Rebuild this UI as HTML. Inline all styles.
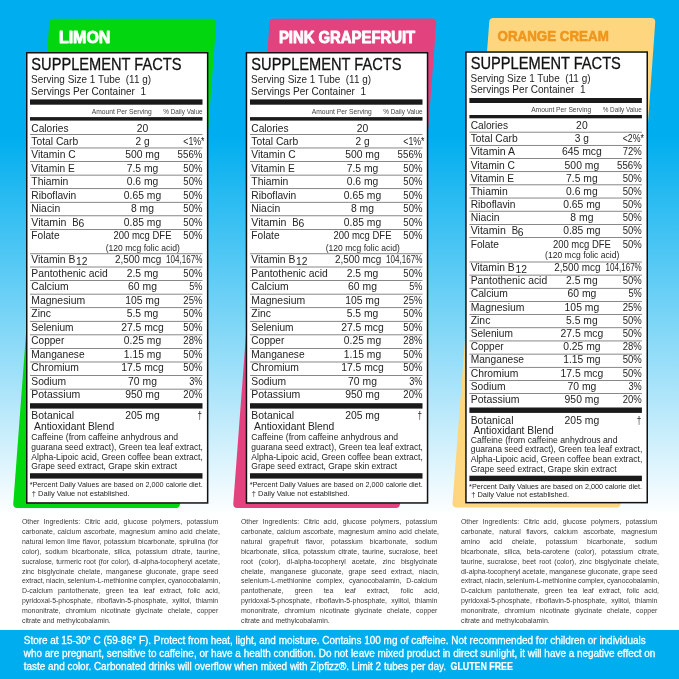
<!DOCTYPE html>
<html lang="en"><head><meta charset="utf-8"><title>Supplement Facts</title>
<style>
html,body{margin:0;padding:0;background:#fff;}
body{width:679px;height:679px;overflow:hidden;}
svg{display:block;font-family:"Liberation Sans",sans-serif;will-change:transform;}
text{white-space:pre;}
</style></head><body>
<svg width="679" height="679" viewBox="0 0 679 679">
<defs><linearGradient id="bg" x1="0" y1="0" x2="0" y2="1"><stop offset="0" stop-color="#00aeef"/><stop offset="0.2018" stop-color="#00aeef"/><stop offset="0.7585" stop-color="#ffffff"/><stop offset="1" stop-color="#ffffff"/></linearGradient></defs>
<rect x="0" y="0" width="679" height="679" fill="url(#bg)"/>
<rect x="0.00" y="630.00" width="679.00" height="49.00" fill="#00aeef"/>
<path d="M53.30 22.75 L212.25 22.75 L176.00 504.00 L17.25 504.00 Z" fill="#02d60f" stroke="#02d60f" stroke-width="8.0" stroke-linejoin="round"/>
<path d="M273.50 22.75 L432.25 22.60 L396.00 504.00 L237.25 504.00 Z" fill="#e2437e" stroke="#e2437e" stroke-width="8.0" stroke-linejoin="round"/>
<path d="M493.30 21.90 L651.25 22.00 L616.60 503.40 L456.50 503.40 Z" fill="#fdd67f" stroke="#fdd67f" stroke-width="8.0" stroke-linejoin="round"/>
<text x="58.90" y="42.60" font-size="17.00" font-weight="bold" fill="#fff" stroke="#fff" stroke-width="0.95" stroke-linejoin="round" textLength="51.50" lengthAdjust="spacingAndGlyphs">LIMON</text>
<text x="278.90" y="42.60" font-size="17.00" font-weight="bold" fill="#fff" stroke="#fff" stroke-width="0.95" stroke-linejoin="round" textLength="136.30" lengthAdjust="spacingAndGlyphs">PINK GRAPEFRUIT</text>
<text x="497.50" y="41.10" font-size="15.00" font-weight="bold" fill="#ee961e" stroke="#ee961e" stroke-width="0.60" stroke-linejoin="round" textLength="111.30" lengthAdjust="spacingAndGlyphs">ORANGE CREAM</text>
<rect x="26.75" y="52.75" width="180.90" height="450.20" fill="#fff" stroke="#111" stroke-width="1.5"/>
<text x="31.30" y="69.50" font-size="16.20" fill="#111" textLength="150.20" lengthAdjust="spacingAndGlyphs" stroke="#111" stroke-width="0.3">SUPPLEMENT FACTS</text>
<text x="31.10" y="82.60" font-size="10.55" fill="#242424" textLength="120.00" lengthAdjust="spacingAndGlyphs">Serving Size 1 Tube  (11 g)</text>
<text x="31.10" y="94.60" font-size="10.55" fill="#242424" textLength="115.00" lengthAdjust="spacingAndGlyphs">Servings Per Container  1</text>
<rect x="30.00" y="99.40" width="172.50" height="5.30" fill="#1a1a1a"/>
<text x="91.75" y="113.90" font-size="7.00" fill="#444" textLength="60.00" lengthAdjust="spacingAndGlyphs">Amount Per Serving</text>
<text x="163.25" y="113.90" font-size="7.00" fill="#444" textLength="39.25" lengthAdjust="spacingAndGlyphs">% Daily Value</text>
<rect x="30.00" y="117.10" width="172.50" height="3.50" fill="#1a1a1a"/>
<text x="31.30" y="131.60" font-size="10.30" fill="#242424" textLength="37.29" lengthAdjust="spacingAndGlyphs">Calories</text>
<text x="142.50" y="131.60" font-size="10.30" text-anchor="middle" fill="#242424" textLength="11.53" lengthAdjust="spacingAndGlyphs">20</text>
<rect x="30.00" y="134.05" width="172.50" height="0.70" fill="#555"/>
<text x="31.30" y="145.03" font-size="10.30" fill="#242424" textLength="46.93" lengthAdjust="spacingAndGlyphs">Total Carb</text>
<text x="142.50" y="145.03" font-size="10.30" text-anchor="middle" fill="#242424" textLength="14.07" lengthAdjust="spacingAndGlyphs">2 g</text>
<text x="204.50" y="145.03" font-size="10.30" text-anchor="end" fill="#242424" textLength="21.20" lengthAdjust="spacingAndGlyphs">&lt;1%*</text>
<rect x="30.00" y="147.62" width="172.50" height="0.70" fill="#555"/>
<text x="31.30" y="158.46" font-size="10.30" fill="#242424" textLength="44.32" lengthAdjust="spacingAndGlyphs">Vitamin C</text>
<text x="142.50" y="158.46" font-size="10.30" text-anchor="middle" fill="#242424" textLength="34.58" lengthAdjust="spacingAndGlyphs">500 mg</text>
<text x="202.40" y="158.46" font-size="10.30" text-anchor="end" fill="#242424" textLength="24.80" lengthAdjust="spacingAndGlyphs">556%</text>
<rect x="30.00" y="161.19" width="172.50" height="0.70" fill="#555"/>
<text x="31.30" y="171.89" font-size="10.30" fill="#242424" textLength="43.48" lengthAdjust="spacingAndGlyphs">Vitamin E</text>
<text x="142.50" y="171.89" font-size="10.30" text-anchor="middle" fill="#242424" textLength="31.52" lengthAdjust="spacingAndGlyphs">7.5 mg</text>
<text x="202.40" y="171.89" font-size="10.30" text-anchor="end" fill="#242424" textLength="19.04" lengthAdjust="spacingAndGlyphs">50%</text>
<rect x="30.00" y="174.76" width="172.50" height="0.70" fill="#555"/>
<text x="31.30" y="185.32" font-size="10.30" fill="#242424" textLength="36.99" lengthAdjust="spacingAndGlyphs">Thiamin</text>
<text x="142.50" y="185.32" font-size="10.30" text-anchor="middle" fill="#242424" textLength="31.52" lengthAdjust="spacingAndGlyphs">0.6 mg</text>
<text x="202.40" y="185.32" font-size="10.30" text-anchor="end" fill="#242424" textLength="19.04" lengthAdjust="spacingAndGlyphs">50%</text>
<rect x="30.00" y="188.33" width="172.50" height="0.70" fill="#555"/>
<text x="31.30" y="198.75" font-size="10.30" fill="#242424" textLength="44.87" lengthAdjust="spacingAndGlyphs">Riboflavin</text>
<text x="142.50" y="198.75" font-size="10.30" text-anchor="middle" fill="#242424" textLength="37.29" lengthAdjust="spacingAndGlyphs">0.65 mg</text>
<text x="202.40" y="198.75" font-size="10.30" text-anchor="end" fill="#242424" textLength="19.04" lengthAdjust="spacingAndGlyphs">50%</text>
<rect x="30.00" y="201.90" width="172.50" height="0.70" fill="#555"/>
<text x="31.30" y="212.18" font-size="10.30" fill="#242424" textLength="28.91" lengthAdjust="spacingAndGlyphs">Niacin</text>
<text x="142.50" y="212.18" font-size="10.30" text-anchor="middle" fill="#242424" textLength="23.06" lengthAdjust="spacingAndGlyphs">8 mg</text>
<text x="202.40" y="212.18" font-size="10.30" text-anchor="end" fill="#242424" textLength="19.04" lengthAdjust="spacingAndGlyphs">50%</text>
<rect x="30.00" y="215.47" width="172.50" height="0.70" fill="#555"/>
<text x="31.30" y="225.61" font-size="10.30" fill="#242424" textLength="35.11" lengthAdjust="spacingAndGlyphs">Vitamin</text>
<text x="72.30" y="225.61" font-size="10.30" fill="#242424" textLength="6.39" lengthAdjust="spacingAndGlyphs">B</text>
<text x="78.40" y="227.11" font-size="10.30" fill="#242424" textLength="5.76" lengthAdjust="spacingAndGlyphs">6</text>
<text x="142.50" y="225.61" font-size="10.30" text-anchor="middle" fill="#242424" textLength="37.29" lengthAdjust="spacingAndGlyphs">0.85 mg</text>
<text x="202.40" y="225.61" font-size="10.30" text-anchor="end" fill="#242424" textLength="19.04" lengthAdjust="spacingAndGlyphs">50%</text>
<rect x="30.00" y="229.04" width="172.50" height="0.70" fill="#555"/>
<text x="31.30" y="239.04" font-size="10.30" fill="#242424" textLength="28.28" lengthAdjust="spacingAndGlyphs">Folate</text>
<text x="142.50" y="239.04" font-size="10.30" text-anchor="middle" fill="#242424" textLength="58.00" lengthAdjust="spacingAndGlyphs">200 mcg DFE</text>
<text x="202.40" y="239.04" font-size="10.30" text-anchor="end" fill="#242424" textLength="19.04" lengthAdjust="spacingAndGlyphs">50%</text>
<text x="142.80" y="250.74" font-size="8.60" text-anchor="middle" fill="#242424" textLength="74.20" lengthAdjust="spacingAndGlyphs">(120 mcg folic acid)</text>
<rect x="30.00" y="253.45" width="172.50" height="0.70" fill="#555"/>
<text x="31.30" y="263.40" font-size="10.30" fill="#242424" textLength="44.04" lengthAdjust="spacingAndGlyphs">Vitamin B</text>
<text x="76.00" y="264.90" font-size="10.30" fill="#242424" textLength="11.53" lengthAdjust="spacingAndGlyphs">12</text>
<text x="138.05" y="263.40" font-size="10.30" text-anchor="middle" fill="#242424" textLength="46.30" lengthAdjust="spacingAndGlyphs">2,500 mcg</text>
<text x="202.40" y="263.40" font-size="10.30" text-anchor="end" fill="#242424" textLength="36.30" lengthAdjust="spacingAndGlyphs">104,167%</text>
<rect x="30.00" y="266.65" width="172.50" height="0.70" fill="#555"/>
<text x="31.30" y="276.89" font-size="10.30" fill="#242424" textLength="76.49" lengthAdjust="spacingAndGlyphs">Pantothenic acid</text>
<text x="142.50" y="276.89" font-size="10.30" text-anchor="middle" fill="#242424" textLength="31.52" lengthAdjust="spacingAndGlyphs">2.5 mg</text>
<text x="202.40" y="276.89" font-size="10.30" text-anchor="end" fill="#242424" textLength="19.04" lengthAdjust="spacingAndGlyphs">50%</text>
<rect x="30.00" y="280.22" width="172.50" height="0.70" fill="#555"/>
<text x="31.30" y="290.38" font-size="10.30" fill="#242424" textLength="37.25" lengthAdjust="spacingAndGlyphs">Calcium</text>
<text x="142.50" y="290.38" font-size="10.30" text-anchor="middle" fill="#242424" textLength="28.82" lengthAdjust="spacingAndGlyphs">60 mg</text>
<text x="202.40" y="290.38" font-size="10.30" text-anchor="end" fill="#242424" textLength="13.27" lengthAdjust="spacingAndGlyphs">5%</text>
<rect x="30.00" y="293.79" width="172.50" height="0.70" fill="#555"/>
<text x="31.30" y="303.87" font-size="10.30" fill="#242424" textLength="53.82" lengthAdjust="spacingAndGlyphs">Magnesium</text>
<text x="142.50" y="303.87" font-size="10.30" text-anchor="middle" fill="#242424" textLength="34.58" lengthAdjust="spacingAndGlyphs">105 mg</text>
<text x="202.40" y="303.87" font-size="10.30" text-anchor="end" fill="#242424" textLength="19.04" lengthAdjust="spacingAndGlyphs">25%</text>
<rect x="30.00" y="307.36" width="172.50" height="0.70" fill="#555"/>
<text x="31.30" y="317.36" font-size="10.30" fill="#242424" textLength="19.67" lengthAdjust="spacingAndGlyphs">Zinc</text>
<text x="142.50" y="317.36" font-size="10.30" text-anchor="middle" fill="#242424" textLength="31.52" lengthAdjust="spacingAndGlyphs">5.5 mg</text>
<text x="202.40" y="317.36" font-size="10.30" text-anchor="end" fill="#242424" textLength="19.04" lengthAdjust="spacingAndGlyphs">50%</text>
<rect x="30.00" y="320.93" width="172.50" height="0.70" fill="#555"/>
<text x="31.30" y="330.85" font-size="10.30" fill="#242424" textLength="42.26" lengthAdjust="spacingAndGlyphs">Selenium</text>
<text x="142.50" y="330.85" font-size="10.30" text-anchor="middle" fill="#242424" textLength="42.66" lengthAdjust="spacingAndGlyphs">27.5 mcg</text>
<text x="202.40" y="330.85" font-size="10.30" text-anchor="end" fill="#242424" textLength="19.04" lengthAdjust="spacingAndGlyphs">50%</text>
<rect x="30.00" y="334.50" width="172.50" height="0.70" fill="#555"/>
<text x="31.30" y="344.34" font-size="10.30" fill="#242424" textLength="32.95" lengthAdjust="spacingAndGlyphs">Copper</text>
<text x="142.50" y="344.34" font-size="10.30" text-anchor="middle" fill="#242424" textLength="37.29" lengthAdjust="spacingAndGlyphs">0.25 mg</text>
<text x="202.40" y="344.34" font-size="10.30" text-anchor="end" fill="#242424" textLength="19.04" lengthAdjust="spacingAndGlyphs">28%</text>
<rect x="30.00" y="348.07" width="172.50" height="0.70" fill="#555"/>
<text x="31.30" y="357.83" font-size="10.30" fill="#242424" textLength="53.36" lengthAdjust="spacingAndGlyphs">Manganese</text>
<text x="142.50" y="357.83" font-size="10.30" text-anchor="middle" fill="#242424" textLength="37.29" lengthAdjust="spacingAndGlyphs">1.15 mg</text>
<text x="202.40" y="357.83" font-size="10.30" text-anchor="end" fill="#242424" textLength="19.04" lengthAdjust="spacingAndGlyphs">50%</text>
<rect x="30.00" y="361.64" width="172.50" height="0.70" fill="#555"/>
<text x="31.30" y="371.32" font-size="10.30" fill="#242424" textLength="47.68" lengthAdjust="spacingAndGlyphs">Chromium</text>
<text x="142.50" y="371.32" font-size="10.30" text-anchor="middle" fill="#242424" textLength="42.66" lengthAdjust="spacingAndGlyphs">17.5 mcg</text>
<text x="202.40" y="371.32" font-size="10.30" text-anchor="end" fill="#242424" textLength="19.04" lengthAdjust="spacingAndGlyphs">50%</text>
<rect x="30.00" y="375.21" width="172.50" height="0.70" fill="#555"/>
<text x="31.30" y="384.81" font-size="10.30" fill="#242424" textLength="34.86" lengthAdjust="spacingAndGlyphs">Sodium</text>
<text x="142.50" y="384.81" font-size="10.30" text-anchor="middle" fill="#242424" textLength="28.82" lengthAdjust="spacingAndGlyphs">70 mg</text>
<text x="202.40" y="384.81" font-size="10.30" text-anchor="end" fill="#242424" textLength="13.27" lengthAdjust="spacingAndGlyphs">3%</text>
<rect x="30.00" y="388.78" width="172.50" height="0.70" fill="#555"/>
<text x="31.30" y="398.30" font-size="10.30" fill="#242424" textLength="48.91" lengthAdjust="spacingAndGlyphs">Potassium</text>
<text x="142.50" y="398.30" font-size="10.30" text-anchor="middle" fill="#242424" textLength="34.58" lengthAdjust="spacingAndGlyphs">950 mg</text>
<text x="202.40" y="398.30" font-size="10.30" text-anchor="end" fill="#242424" textLength="19.04" lengthAdjust="spacingAndGlyphs">20%</text>
<rect x="30.00" y="403.20" width="172.50" height="5.40" fill="#1a1a1a"/>
<text x="31.30" y="419.10" font-size="10.30" fill="#242424" textLength="42.77" lengthAdjust="spacingAndGlyphs">Botanical</text>
<text x="142.50" y="419.10" font-size="10.30" text-anchor="middle" fill="#242424" textLength="34.58" lengthAdjust="spacingAndGlyphs">205 mg</text>
<text x="199.70" y="419.10" font-size="10.30" text-anchor="middle" fill="#242424" textLength="4.60" lengthAdjust="spacingAndGlyphs">†</text>
<text x="34.10" y="429.50" font-size="10.30" fill="#242424" textLength="80.21" lengthAdjust="spacingAndGlyphs">Antioxidant Blend</text>
<text x="31.30" y="439.60" font-size="8.60" fill="#242424" textLength="146.80" lengthAdjust="spacingAndGlyphs">Caffeine (from caffeine anhydrous and</text>
<text x="31.30" y="449.65" font-size="8.60" fill="#242424" textLength="171.60" lengthAdjust="spacingAndGlyphs">guarana seed extract), Green tea leaf extract,</text>
<text x="31.30" y="459.70" font-size="8.60" fill="#242424" textLength="171.60" lengthAdjust="spacingAndGlyphs">Alpha-Lipoic acid, Green coffee bean extract,</text>
<text x="31.30" y="469.40" font-size="8.60" fill="#242424" textLength="145.80" lengthAdjust="spacingAndGlyphs">Grape seed extract, Grape skin extract</text>
<rect x="30.00" y="473.20" width="172.50" height="5.40" fill="#1a1a1a"/>
<text x="29.70" y="487.00" font-size="7.30" fill="#242424" textLength="173.00" lengthAdjust="spacingAndGlyphs">*Percent Daily Values are based on 2,000 calorie diet.</text>
<text x="31.80" y="495.50" font-size="7.30" fill="#242424" textLength="97.80" lengthAdjust="spacingAndGlyphs">† Daily Value not established.</text>
<rect x="246.45" y="52.75" width="181.10" height="450.20" fill="#fff" stroke="#111" stroke-width="1.5"/>
<text x="251.30" y="69.50" font-size="16.20" fill="#111" textLength="150.20" lengthAdjust="spacingAndGlyphs" stroke="#111" stroke-width="0.3">SUPPLEMENT FACTS</text>
<text x="251.10" y="82.60" font-size="10.55" fill="#242424" textLength="120.00" lengthAdjust="spacingAndGlyphs">Serving Size 1 Tube  (11 g)</text>
<text x="251.10" y="94.60" font-size="10.55" fill="#242424" textLength="115.00" lengthAdjust="spacingAndGlyphs">Servings Per Container  1</text>
<rect x="250.00" y="99.40" width="172.50" height="5.30" fill="#1a1a1a"/>
<text x="311.75" y="113.90" font-size="7.00" fill="#444" textLength="60.00" lengthAdjust="spacingAndGlyphs">Amount Per Serving</text>
<text x="383.25" y="113.90" font-size="7.00" fill="#444" textLength="39.25" lengthAdjust="spacingAndGlyphs">% Daily Value</text>
<rect x="250.00" y="117.10" width="172.50" height="3.50" fill="#1a1a1a"/>
<text x="251.30" y="131.60" font-size="10.30" fill="#242424" textLength="37.29" lengthAdjust="spacingAndGlyphs">Calories</text>
<text x="362.50" y="131.60" font-size="10.30" text-anchor="middle" fill="#242424" textLength="11.53" lengthAdjust="spacingAndGlyphs">20</text>
<rect x="250.00" y="134.05" width="172.50" height="0.70" fill="#555"/>
<text x="251.30" y="145.03" font-size="10.30" fill="#242424" textLength="46.93" lengthAdjust="spacingAndGlyphs">Total Carb</text>
<text x="362.50" y="145.03" font-size="10.30" text-anchor="middle" fill="#242424" textLength="14.07" lengthAdjust="spacingAndGlyphs">2 g</text>
<text x="424.50" y="145.03" font-size="10.30" text-anchor="end" fill="#242424" textLength="21.20" lengthAdjust="spacingAndGlyphs">&lt;1%*</text>
<rect x="250.00" y="147.62" width="172.50" height="0.70" fill="#555"/>
<text x="251.30" y="158.46" font-size="10.30" fill="#242424" textLength="44.32" lengthAdjust="spacingAndGlyphs">Vitamin C</text>
<text x="362.50" y="158.46" font-size="10.30" text-anchor="middle" fill="#242424" textLength="34.58" lengthAdjust="spacingAndGlyphs">500 mg</text>
<text x="422.40" y="158.46" font-size="10.30" text-anchor="end" fill="#242424" textLength="24.80" lengthAdjust="spacingAndGlyphs">556%</text>
<rect x="250.00" y="161.19" width="172.50" height="0.70" fill="#555"/>
<text x="251.30" y="171.89" font-size="10.30" fill="#242424" textLength="43.48" lengthAdjust="spacingAndGlyphs">Vitamin E</text>
<text x="362.50" y="171.89" font-size="10.30" text-anchor="middle" fill="#242424" textLength="31.52" lengthAdjust="spacingAndGlyphs">7.5 mg</text>
<text x="422.40" y="171.89" font-size="10.30" text-anchor="end" fill="#242424" textLength="19.04" lengthAdjust="spacingAndGlyphs">50%</text>
<rect x="250.00" y="174.76" width="172.50" height="0.70" fill="#555"/>
<text x="251.30" y="185.32" font-size="10.30" fill="#242424" textLength="36.99" lengthAdjust="spacingAndGlyphs">Thiamin</text>
<text x="362.50" y="185.32" font-size="10.30" text-anchor="middle" fill="#242424" textLength="31.52" lengthAdjust="spacingAndGlyphs">0.6 mg</text>
<text x="422.40" y="185.32" font-size="10.30" text-anchor="end" fill="#242424" textLength="19.04" lengthAdjust="spacingAndGlyphs">50%</text>
<rect x="250.00" y="188.33" width="172.50" height="0.70" fill="#555"/>
<text x="251.30" y="198.75" font-size="10.30" fill="#242424" textLength="44.87" lengthAdjust="spacingAndGlyphs">Riboflavin</text>
<text x="362.50" y="198.75" font-size="10.30" text-anchor="middle" fill="#242424" textLength="37.29" lengthAdjust="spacingAndGlyphs">0.65 mg</text>
<text x="422.40" y="198.75" font-size="10.30" text-anchor="end" fill="#242424" textLength="19.04" lengthAdjust="spacingAndGlyphs">50%</text>
<rect x="250.00" y="201.90" width="172.50" height="0.70" fill="#555"/>
<text x="251.30" y="212.18" font-size="10.30" fill="#242424" textLength="28.91" lengthAdjust="spacingAndGlyphs">Niacin</text>
<text x="362.50" y="212.18" font-size="10.30" text-anchor="middle" fill="#242424" textLength="23.06" lengthAdjust="spacingAndGlyphs">8 mg</text>
<text x="422.40" y="212.18" font-size="10.30" text-anchor="end" fill="#242424" textLength="19.04" lengthAdjust="spacingAndGlyphs">50%</text>
<rect x="250.00" y="215.47" width="172.50" height="0.70" fill="#555"/>
<text x="251.30" y="225.61" font-size="10.30" fill="#242424" textLength="35.11" lengthAdjust="spacingAndGlyphs">Vitamin</text>
<text x="292.30" y="225.61" font-size="10.30" fill="#242424" textLength="6.39" lengthAdjust="spacingAndGlyphs">B</text>
<text x="298.40" y="227.11" font-size="10.30" fill="#242424" textLength="5.76" lengthAdjust="spacingAndGlyphs">6</text>
<text x="362.50" y="225.61" font-size="10.30" text-anchor="middle" fill="#242424" textLength="37.29" lengthAdjust="spacingAndGlyphs">0.85 mg</text>
<text x="422.40" y="225.61" font-size="10.30" text-anchor="end" fill="#242424" textLength="19.04" lengthAdjust="spacingAndGlyphs">50%</text>
<rect x="250.00" y="229.04" width="172.50" height="0.70" fill="#555"/>
<text x="251.30" y="239.04" font-size="10.30" fill="#242424" textLength="28.28" lengthAdjust="spacingAndGlyphs">Folate</text>
<text x="362.50" y="239.04" font-size="10.30" text-anchor="middle" fill="#242424" textLength="58.00" lengthAdjust="spacingAndGlyphs">200 mcg DFE</text>
<text x="422.40" y="239.04" font-size="10.30" text-anchor="end" fill="#242424" textLength="19.04" lengthAdjust="spacingAndGlyphs">50%</text>
<text x="362.80" y="250.74" font-size="8.60" text-anchor="middle" fill="#242424" textLength="74.20" lengthAdjust="spacingAndGlyphs">(120 mcg folic acid)</text>
<rect x="250.00" y="253.45" width="172.50" height="0.70" fill="#555"/>
<text x="251.30" y="263.40" font-size="10.30" fill="#242424" textLength="44.04" lengthAdjust="spacingAndGlyphs">Vitamin B</text>
<text x="296.00" y="264.90" font-size="10.30" fill="#242424" textLength="11.53" lengthAdjust="spacingAndGlyphs">12</text>
<text x="358.05" y="263.40" font-size="10.30" text-anchor="middle" fill="#242424" textLength="46.30" lengthAdjust="spacingAndGlyphs">2,500 mcg</text>
<text x="422.40" y="263.40" font-size="10.30" text-anchor="end" fill="#242424" textLength="36.30" lengthAdjust="spacingAndGlyphs">104,167%</text>
<rect x="250.00" y="266.65" width="172.50" height="0.70" fill="#555"/>
<text x="251.30" y="276.89" font-size="10.30" fill="#242424" textLength="76.49" lengthAdjust="spacingAndGlyphs">Pantothenic acid</text>
<text x="362.50" y="276.89" font-size="10.30" text-anchor="middle" fill="#242424" textLength="31.52" lengthAdjust="spacingAndGlyphs">2.5 mg</text>
<text x="422.40" y="276.89" font-size="10.30" text-anchor="end" fill="#242424" textLength="19.04" lengthAdjust="spacingAndGlyphs">50%</text>
<rect x="250.00" y="280.22" width="172.50" height="0.70" fill="#555"/>
<text x="251.30" y="290.38" font-size="10.30" fill="#242424" textLength="37.25" lengthAdjust="spacingAndGlyphs">Calcium</text>
<text x="362.50" y="290.38" font-size="10.30" text-anchor="middle" fill="#242424" textLength="28.82" lengthAdjust="spacingAndGlyphs">60 mg</text>
<text x="422.40" y="290.38" font-size="10.30" text-anchor="end" fill="#242424" textLength="13.27" lengthAdjust="spacingAndGlyphs">5%</text>
<rect x="250.00" y="293.79" width="172.50" height="0.70" fill="#555"/>
<text x="251.30" y="303.87" font-size="10.30" fill="#242424" textLength="53.82" lengthAdjust="spacingAndGlyphs">Magnesium</text>
<text x="362.50" y="303.87" font-size="10.30" text-anchor="middle" fill="#242424" textLength="34.58" lengthAdjust="spacingAndGlyphs">105 mg</text>
<text x="422.40" y="303.87" font-size="10.30" text-anchor="end" fill="#242424" textLength="19.04" lengthAdjust="spacingAndGlyphs">25%</text>
<rect x="250.00" y="307.36" width="172.50" height="0.70" fill="#555"/>
<text x="251.30" y="317.36" font-size="10.30" fill="#242424" textLength="19.67" lengthAdjust="spacingAndGlyphs">Zinc</text>
<text x="362.50" y="317.36" font-size="10.30" text-anchor="middle" fill="#242424" textLength="31.52" lengthAdjust="spacingAndGlyphs">5.5 mg</text>
<text x="422.40" y="317.36" font-size="10.30" text-anchor="end" fill="#242424" textLength="19.04" lengthAdjust="spacingAndGlyphs">50%</text>
<rect x="250.00" y="320.93" width="172.50" height="0.70" fill="#555"/>
<text x="251.30" y="330.85" font-size="10.30" fill="#242424" textLength="42.26" lengthAdjust="spacingAndGlyphs">Selenium</text>
<text x="362.50" y="330.85" font-size="10.30" text-anchor="middle" fill="#242424" textLength="42.66" lengthAdjust="spacingAndGlyphs">27.5 mcg</text>
<text x="422.40" y="330.85" font-size="10.30" text-anchor="end" fill="#242424" textLength="19.04" lengthAdjust="spacingAndGlyphs">50%</text>
<rect x="250.00" y="334.50" width="172.50" height="0.70" fill="#555"/>
<text x="251.30" y="344.34" font-size="10.30" fill="#242424" textLength="32.95" lengthAdjust="spacingAndGlyphs">Copper</text>
<text x="362.50" y="344.34" font-size="10.30" text-anchor="middle" fill="#242424" textLength="37.29" lengthAdjust="spacingAndGlyphs">0.25 mg</text>
<text x="422.40" y="344.34" font-size="10.30" text-anchor="end" fill="#242424" textLength="19.04" lengthAdjust="spacingAndGlyphs">28%</text>
<rect x="250.00" y="348.07" width="172.50" height="0.70" fill="#555"/>
<text x="251.30" y="357.83" font-size="10.30" fill="#242424" textLength="53.36" lengthAdjust="spacingAndGlyphs">Manganese</text>
<text x="362.50" y="357.83" font-size="10.30" text-anchor="middle" fill="#242424" textLength="37.29" lengthAdjust="spacingAndGlyphs">1.15 mg</text>
<text x="422.40" y="357.83" font-size="10.30" text-anchor="end" fill="#242424" textLength="19.04" lengthAdjust="spacingAndGlyphs">50%</text>
<rect x="250.00" y="361.64" width="172.50" height="0.70" fill="#555"/>
<text x="251.30" y="371.32" font-size="10.30" fill="#242424" textLength="47.68" lengthAdjust="spacingAndGlyphs">Chromium</text>
<text x="362.50" y="371.32" font-size="10.30" text-anchor="middle" fill="#242424" textLength="42.66" lengthAdjust="spacingAndGlyphs">17.5 mcg</text>
<text x="422.40" y="371.32" font-size="10.30" text-anchor="end" fill="#242424" textLength="19.04" lengthAdjust="spacingAndGlyphs">50%</text>
<rect x="250.00" y="375.21" width="172.50" height="0.70" fill="#555"/>
<text x="251.30" y="384.81" font-size="10.30" fill="#242424" textLength="34.86" lengthAdjust="spacingAndGlyphs">Sodium</text>
<text x="362.50" y="384.81" font-size="10.30" text-anchor="middle" fill="#242424" textLength="28.82" lengthAdjust="spacingAndGlyphs">70 mg</text>
<text x="422.40" y="384.81" font-size="10.30" text-anchor="end" fill="#242424" textLength="13.27" lengthAdjust="spacingAndGlyphs">3%</text>
<rect x="250.00" y="388.78" width="172.50" height="0.70" fill="#555"/>
<text x="251.30" y="398.30" font-size="10.30" fill="#242424" textLength="48.91" lengthAdjust="spacingAndGlyphs">Potassium</text>
<text x="362.50" y="398.30" font-size="10.30" text-anchor="middle" fill="#242424" textLength="34.58" lengthAdjust="spacingAndGlyphs">950 mg</text>
<text x="422.40" y="398.30" font-size="10.30" text-anchor="end" fill="#242424" textLength="19.04" lengthAdjust="spacingAndGlyphs">20%</text>
<rect x="250.00" y="403.20" width="172.50" height="5.40" fill="#1a1a1a"/>
<text x="251.30" y="419.10" font-size="10.30" fill="#242424" textLength="42.77" lengthAdjust="spacingAndGlyphs">Botanical</text>
<text x="362.50" y="419.10" font-size="10.30" text-anchor="middle" fill="#242424" textLength="34.58" lengthAdjust="spacingAndGlyphs">205 mg</text>
<text x="419.70" y="419.10" font-size="10.30" text-anchor="middle" fill="#242424" textLength="4.60" lengthAdjust="spacingAndGlyphs">†</text>
<text x="254.10" y="429.50" font-size="10.30" fill="#242424" textLength="80.21" lengthAdjust="spacingAndGlyphs">Antioxidant Blend</text>
<text x="251.30" y="439.60" font-size="8.60" fill="#242424" textLength="146.80" lengthAdjust="spacingAndGlyphs">Caffeine (from caffeine anhydrous and</text>
<text x="251.30" y="449.65" font-size="8.60" fill="#242424" textLength="171.60" lengthAdjust="spacingAndGlyphs">guarana seed extract), Green tea leaf extract,</text>
<text x="251.30" y="459.70" font-size="8.60" fill="#242424" textLength="171.60" lengthAdjust="spacingAndGlyphs">Alpha-Lipoic acid, Green coffee bean extract,</text>
<text x="251.30" y="469.40" font-size="8.60" fill="#242424" textLength="145.80" lengthAdjust="spacingAndGlyphs">Grape seed extract, Grape skin extract</text>
<rect x="250.00" y="473.20" width="172.50" height="5.40" fill="#1a1a1a"/>
<text x="249.70" y="487.00" font-size="7.30" fill="#242424" textLength="173.00" lengthAdjust="spacingAndGlyphs">*Percent Daily Values are based on 2,000 calorie diet.</text>
<text x="251.80" y="495.50" font-size="7.30" fill="#242424" textLength="97.80" lengthAdjust="spacingAndGlyphs">† Daily Value not established.</text>
<rect x="465.95" y="52.05" width="181.30" height="450.60" fill="#fff" stroke="#111" stroke-width="1.5"/>
<text x="470.70" y="68.75" font-size="16.20" fill="#111" textLength="150.20" lengthAdjust="spacingAndGlyphs" stroke="#111" stroke-width="0.3">SUPPLEMENT FACTS</text>
<text x="470.50" y="81.50" font-size="10.55" fill="#242424" textLength="120.00" lengthAdjust="spacingAndGlyphs">Serving Size 1 Tube  (11 g)</text>
<text x="470.50" y="93.25" font-size="10.55" fill="#242424" textLength="115.00" lengthAdjust="spacingAndGlyphs">Servings Per Container  1</text>
<rect x="469.40" y="98.00" width="172.50" height="5.00" fill="#1a1a1a"/>
<text x="531.15" y="111.80" font-size="7.00" fill="#444" textLength="60.00" lengthAdjust="spacingAndGlyphs">Amount Per Serving</text>
<text x="602.65" y="111.80" font-size="7.00" fill="#444" textLength="39.25" lengthAdjust="spacingAndGlyphs">% Daily Value</text>
<rect x="469.40" y="115.00" width="172.50" height="3.30" fill="#1a1a1a"/>
<text x="470.70" y="129.00" font-size="10.30" fill="#242424" textLength="37.29" lengthAdjust="spacingAndGlyphs">Calories</text>
<text x="581.90" y="129.00" font-size="10.30" text-anchor="middle" fill="#242424" textLength="11.53" lengthAdjust="spacingAndGlyphs">20</text>
<rect x="469.40" y="131.80" width="172.50" height="0.70" fill="#555"/>
<text x="470.70" y="142.18" font-size="10.30" fill="#242424" textLength="46.93" lengthAdjust="spacingAndGlyphs">Total Carb</text>
<text x="581.90" y="142.18" font-size="10.30" text-anchor="middle" fill="#242424" textLength="14.07" lengthAdjust="spacingAndGlyphs">3 g</text>
<text x="643.90" y="142.18" font-size="10.30" text-anchor="end" fill="#242424" textLength="21.20" lengthAdjust="spacingAndGlyphs">&lt;2%*</text>
<rect x="469.40" y="144.98" width="172.50" height="0.70" fill="#555"/>
<text x="470.70" y="155.36" font-size="10.30" fill="#242424" textLength="44.34" lengthAdjust="spacingAndGlyphs">Vitamin A</text>
<text x="581.90" y="155.36" font-size="10.30" text-anchor="middle" fill="#242424" textLength="39.95" lengthAdjust="spacingAndGlyphs">645 mcg</text>
<text x="641.80" y="155.36" font-size="10.30" text-anchor="end" fill="#242424" textLength="19.04" lengthAdjust="spacingAndGlyphs">72%</text>
<rect x="469.40" y="158.15" width="172.50" height="0.70" fill="#555"/>
<text x="470.70" y="168.54" font-size="10.30" fill="#242424" textLength="44.32" lengthAdjust="spacingAndGlyphs">Vitamin C</text>
<text x="581.90" y="168.54" font-size="10.30" text-anchor="middle" fill="#242424" textLength="34.58" lengthAdjust="spacingAndGlyphs">500 mg</text>
<text x="641.80" y="168.54" font-size="10.30" text-anchor="end" fill="#242424" textLength="24.80" lengthAdjust="spacingAndGlyphs">556%</text>
<rect x="469.40" y="171.33" width="172.50" height="0.70" fill="#555"/>
<text x="470.70" y="181.72" font-size="10.30" fill="#242424" textLength="43.48" lengthAdjust="spacingAndGlyphs">Vitamin E</text>
<text x="581.90" y="181.72" font-size="10.30" text-anchor="middle" fill="#242424" textLength="31.52" lengthAdjust="spacingAndGlyphs">7.5 mg</text>
<text x="641.80" y="181.72" font-size="10.30" text-anchor="end" fill="#242424" textLength="19.04" lengthAdjust="spacingAndGlyphs">50%</text>
<rect x="469.40" y="184.50" width="172.50" height="0.70" fill="#555"/>
<text x="470.70" y="194.90" font-size="10.30" fill="#242424" textLength="36.99" lengthAdjust="spacingAndGlyphs">Thiamin</text>
<text x="581.90" y="194.90" font-size="10.30" text-anchor="middle" fill="#242424" textLength="31.52" lengthAdjust="spacingAndGlyphs">0.6 mg</text>
<text x="641.80" y="194.90" font-size="10.30" text-anchor="end" fill="#242424" textLength="19.04" lengthAdjust="spacingAndGlyphs">50%</text>
<rect x="469.40" y="197.68" width="172.50" height="0.70" fill="#555"/>
<text x="470.70" y="208.08" font-size="10.30" fill="#242424" textLength="44.87" lengthAdjust="spacingAndGlyphs">Riboflavin</text>
<text x="581.90" y="208.08" font-size="10.30" text-anchor="middle" fill="#242424" textLength="37.29" lengthAdjust="spacingAndGlyphs">0.65 mg</text>
<text x="641.80" y="208.08" font-size="10.30" text-anchor="end" fill="#242424" textLength="19.04" lengthAdjust="spacingAndGlyphs">50%</text>
<rect x="469.40" y="210.85" width="172.50" height="0.70" fill="#555"/>
<text x="470.70" y="221.26" font-size="10.30" fill="#242424" textLength="28.91" lengthAdjust="spacingAndGlyphs">Niacin</text>
<text x="581.90" y="221.26" font-size="10.30" text-anchor="middle" fill="#242424" textLength="23.06" lengthAdjust="spacingAndGlyphs">8 mg</text>
<text x="641.80" y="221.26" font-size="10.30" text-anchor="end" fill="#242424" textLength="19.04" lengthAdjust="spacingAndGlyphs">50%</text>
<rect x="469.40" y="224.03" width="172.50" height="0.70" fill="#555"/>
<text x="470.70" y="234.44" font-size="10.30" fill="#242424" textLength="35.11" lengthAdjust="spacingAndGlyphs">Vitamin</text>
<text x="511.70" y="234.44" font-size="10.30" fill="#242424" textLength="6.39" lengthAdjust="spacingAndGlyphs">B</text>
<text x="517.80" y="235.94" font-size="10.30" fill="#242424" textLength="5.76" lengthAdjust="spacingAndGlyphs">6</text>
<text x="581.90" y="234.44" font-size="10.30" text-anchor="middle" fill="#242424" textLength="37.29" lengthAdjust="spacingAndGlyphs">0.85 mg</text>
<text x="641.80" y="234.44" font-size="10.30" text-anchor="end" fill="#242424" textLength="19.04" lengthAdjust="spacingAndGlyphs">50%</text>
<rect x="469.40" y="237.20" width="172.50" height="0.70" fill="#555"/>
<text x="470.70" y="247.62" font-size="10.30" fill="#242424" textLength="28.28" lengthAdjust="spacingAndGlyphs">Folate</text>
<text x="581.90" y="247.62" font-size="10.30" text-anchor="middle" fill="#242424" textLength="58.00" lengthAdjust="spacingAndGlyphs">200 mcg DFE</text>
<text x="641.80" y="247.62" font-size="10.30" text-anchor="end" fill="#242424" textLength="19.04" lengthAdjust="spacingAndGlyphs">50%</text>
<text x="582.20" y="257.72" font-size="8.60" text-anchor="middle" fill="#242424" textLength="74.20" lengthAdjust="spacingAndGlyphs">(120 mcg folic acid)</text>
<rect x="469.40" y="261.65" width="172.50" height="0.70" fill="#555"/>
<text x="470.70" y="271.10" font-size="10.30" fill="#242424" textLength="44.04" lengthAdjust="spacingAndGlyphs">Vitamin B</text>
<text x="515.40" y="272.60" font-size="10.30" fill="#242424" textLength="11.53" lengthAdjust="spacingAndGlyphs">12</text>
<text x="577.45" y="271.10" font-size="10.30" text-anchor="middle" fill="#242424" textLength="46.30" lengthAdjust="spacingAndGlyphs">2,500 mcg</text>
<text x="641.80" y="271.10" font-size="10.30" text-anchor="end" fill="#242424" textLength="36.30" lengthAdjust="spacingAndGlyphs">104,167%</text>
<rect x="469.40" y="274.75" width="172.50" height="0.70" fill="#555"/>
<text x="470.70" y="284.29" font-size="10.30" fill="#242424" textLength="76.49" lengthAdjust="spacingAndGlyphs">Pantothenic acid</text>
<text x="581.90" y="284.29" font-size="10.30" text-anchor="middle" fill="#242424" textLength="31.52" lengthAdjust="spacingAndGlyphs">2.5 mg</text>
<text x="641.80" y="284.29" font-size="10.30" text-anchor="end" fill="#242424" textLength="19.04" lengthAdjust="spacingAndGlyphs">50%</text>
<rect x="469.40" y="287.92" width="172.50" height="0.70" fill="#555"/>
<text x="470.70" y="297.48" font-size="10.30" fill="#242424" textLength="37.25" lengthAdjust="spacingAndGlyphs">Calcium</text>
<text x="581.90" y="297.48" font-size="10.30" text-anchor="middle" fill="#242424" textLength="28.82" lengthAdjust="spacingAndGlyphs">60 mg</text>
<text x="641.80" y="297.48" font-size="10.30" text-anchor="end" fill="#242424" textLength="13.27" lengthAdjust="spacingAndGlyphs">5%</text>
<rect x="469.40" y="301.09" width="172.50" height="0.70" fill="#555"/>
<text x="470.70" y="310.67" font-size="10.30" fill="#242424" textLength="53.82" lengthAdjust="spacingAndGlyphs">Magnesium</text>
<text x="581.90" y="310.67" font-size="10.30" text-anchor="middle" fill="#242424" textLength="34.58" lengthAdjust="spacingAndGlyphs">105 mg</text>
<text x="641.80" y="310.67" font-size="10.30" text-anchor="end" fill="#242424" textLength="19.04" lengthAdjust="spacingAndGlyphs">25%</text>
<rect x="469.40" y="314.26" width="172.50" height="0.70" fill="#555"/>
<text x="470.70" y="323.86" font-size="10.30" fill="#242424" textLength="19.67" lengthAdjust="spacingAndGlyphs">Zinc</text>
<text x="581.90" y="323.86" font-size="10.30" text-anchor="middle" fill="#242424" textLength="31.52" lengthAdjust="spacingAndGlyphs">5.5 mg</text>
<text x="641.80" y="323.86" font-size="10.30" text-anchor="end" fill="#242424" textLength="19.04" lengthAdjust="spacingAndGlyphs">50%</text>
<rect x="469.40" y="327.43" width="172.50" height="0.70" fill="#555"/>
<text x="470.70" y="337.05" font-size="10.30" fill="#242424" textLength="42.26" lengthAdjust="spacingAndGlyphs">Selenium</text>
<text x="581.90" y="337.05" font-size="10.30" text-anchor="middle" fill="#242424" textLength="42.66" lengthAdjust="spacingAndGlyphs">27.5 mcg</text>
<text x="641.80" y="337.05" font-size="10.30" text-anchor="end" fill="#242424" textLength="19.04" lengthAdjust="spacingAndGlyphs">50%</text>
<rect x="469.40" y="340.60" width="172.50" height="0.70" fill="#555"/>
<text x="470.70" y="350.24" font-size="10.30" fill="#242424" textLength="32.95" lengthAdjust="spacingAndGlyphs">Copper</text>
<text x="581.90" y="350.24" font-size="10.30" text-anchor="middle" fill="#242424" textLength="37.29" lengthAdjust="spacingAndGlyphs">0.25 mg</text>
<text x="641.80" y="350.24" font-size="10.30" text-anchor="end" fill="#242424" textLength="19.04" lengthAdjust="spacingAndGlyphs">28%</text>
<rect x="469.40" y="353.77" width="172.50" height="0.70" fill="#555"/>
<text x="470.70" y="363.43" font-size="10.30" fill="#242424" textLength="53.36" lengthAdjust="spacingAndGlyphs">Manganese</text>
<text x="581.90" y="363.43" font-size="10.30" text-anchor="middle" fill="#242424" textLength="37.29" lengthAdjust="spacingAndGlyphs">1.15 mg</text>
<text x="641.80" y="363.43" font-size="10.30" text-anchor="end" fill="#242424" textLength="19.04" lengthAdjust="spacingAndGlyphs">50%</text>
<rect x="469.40" y="366.94" width="172.50" height="0.70" fill="#555"/>
<text x="470.70" y="376.62" font-size="10.30" fill="#242424" textLength="47.68" lengthAdjust="spacingAndGlyphs">Chromium</text>
<text x="581.90" y="376.62" font-size="10.30" text-anchor="middle" fill="#242424" textLength="42.66" lengthAdjust="spacingAndGlyphs">17.5 mcg</text>
<text x="641.80" y="376.62" font-size="10.30" text-anchor="end" fill="#242424" textLength="19.04" lengthAdjust="spacingAndGlyphs">50%</text>
<rect x="469.40" y="380.11" width="172.50" height="0.70" fill="#555"/>
<text x="470.70" y="389.81" font-size="10.30" fill="#242424" textLength="34.86" lengthAdjust="spacingAndGlyphs">Sodium</text>
<text x="581.90" y="389.81" font-size="10.30" text-anchor="middle" fill="#242424" textLength="28.82" lengthAdjust="spacingAndGlyphs">70 mg</text>
<text x="641.80" y="389.81" font-size="10.30" text-anchor="end" fill="#242424" textLength="13.27" lengthAdjust="spacingAndGlyphs">3%</text>
<rect x="469.40" y="393.28" width="172.50" height="0.70" fill="#555"/>
<text x="470.70" y="403.00" font-size="10.30" fill="#242424" textLength="48.91" lengthAdjust="spacingAndGlyphs">Potassium</text>
<text x="581.90" y="403.00" font-size="10.30" text-anchor="middle" fill="#242424" textLength="34.58" lengthAdjust="spacingAndGlyphs">950 mg</text>
<text x="641.80" y="403.00" font-size="10.30" text-anchor="end" fill="#242424" textLength="19.04" lengthAdjust="spacingAndGlyphs">20%</text>
<rect x="469.40" y="407.50" width="172.50" height="5.40" fill="#1a1a1a"/>
<text x="470.70" y="423.50" font-size="10.30" fill="#242424" textLength="42.77" lengthAdjust="spacingAndGlyphs">Botanical</text>
<text x="581.90" y="423.50" font-size="10.30" text-anchor="middle" fill="#242424" textLength="34.58" lengthAdjust="spacingAndGlyphs">205 mg</text>
<text x="639.10" y="423.50" font-size="10.30" text-anchor="middle" fill="#242424" textLength="4.60" lengthAdjust="spacingAndGlyphs">†</text>
<text x="473.50" y="433.55" font-size="10.30" fill="#242424" textLength="80.21" lengthAdjust="spacingAndGlyphs">Antioxidant Blend</text>
<text x="470.70" y="442.60" font-size="8.60" fill="#242424" textLength="146.80" lengthAdjust="spacingAndGlyphs">Caffeine (from caffeine anhydrous and</text>
<text x="470.70" y="452.30" font-size="8.60" fill="#242424" textLength="171.60" lengthAdjust="spacingAndGlyphs">guarana seed extract), Green tea leaf extract,</text>
<text x="470.70" y="462.00" font-size="8.60" fill="#242424" textLength="171.60" lengthAdjust="spacingAndGlyphs">Alpha-Lipoic acid, Green coffee bean extract,</text>
<text x="470.70" y="471.60" font-size="8.60" fill="#242424" textLength="145.80" lengthAdjust="spacingAndGlyphs">Grape seed extract, Grape skin extract</text>
<rect x="469.40" y="475.70" width="172.50" height="5.40" fill="#1a1a1a"/>
<text x="469.10" y="489.10" font-size="7.30" fill="#242424" textLength="173.00" lengthAdjust="spacingAndGlyphs">*Percent Daily Values are based on 2,000 calorie diet.</text>
<text x="471.20" y="497.30" font-size="7.30" fill="#242424" textLength="97.80" lengthAdjust="spacingAndGlyphs">† Daily Value not established.</text>
<text transform="translate(21.90 523.70) scale(0.9720 1)" font-size="7.20" fill="#3a3a3a" word-spacing="2.415">Other Ingredients: Citric acid, glucose polymers, potassium</text>
<text transform="translate(21.90 533.66) scale(0.9720 1)" font-size="7.20" fill="#3a3a3a" word-spacing="0.827">carbonate, calcium ascorbate, magnesium amino acid chelate,</text>
<text transform="translate(21.90 543.62) scale(0.9720 1)" font-size="7.20" fill="#3a3a3a" word-spacing="0.639">natural lemon lime flavor, potassium bicarbonate, spirulina (for</text>
<text transform="translate(21.90 553.58) scale(0.9720 1)" font-size="7.20" fill="#3a3a3a" word-spacing="2.164">color), sodium bicarbonate, silica, potassium citrate, taurine,</text>
<text transform="translate(21.90 563.54) scale(0.9720 1)" font-size="7.20" fill="#3a3a3a" word-spacing="0.564">sucralose, turmeric root (for color), dl-alpha-tocopheryl acetate,</text>
<text transform="translate(21.90 573.50) scale(0.9720 1)" font-size="7.20" fill="#3a3a3a" word-spacing="1.674">zinc bisglycinate chelate, manganese gluconate, grape seed</text>
<text transform="translate(21.90 583.46) scale(0.9652 1)" font-size="7.20" fill="#3a3a3a" word-spacing="-0.600">extract, niacin, selenium-L-methionine complex, cyanocobalamin,</text>
<text transform="translate(21.90 593.42) scale(0.9720 1)" font-size="7.20" fill="#3a3a3a" word-spacing="3.224">D-calcium pantothenate, green tea leaf extract, folic acid,</text>
<text transform="translate(21.90 603.38) scale(0.9720 1)" font-size="7.20" fill="#3a3a3a" word-spacing="2.289">pyridoxal-5-phosphate, riboflavin-5-phosphate, xylitol, thiamin</text>
<text transform="translate(21.90 613.34) scale(0.9720 1)" font-size="7.20" fill="#3a3a3a" word-spacing="2.894">mononitrate, chromium nicotinate glycinate chelate, copper</text>
<text transform="translate(21.90 623.30) scale(0.9720 1)" font-size="7.20" fill="#3a3a3a" word-spacing="0.000">citrate and methylcobalamin.</text>
<text transform="translate(240.90 523.70) scale(0.9720 1)" font-size="7.20" fill="#3a3a3a" word-spacing="2.432">Other Ingredients: Citric acid, glucose polymers, potassium</text>
<text transform="translate(240.90 533.66) scale(0.9720 1)" font-size="7.20" fill="#3a3a3a" word-spacing="0.844">carbonate, calcium ascorbate, magnesium amino acid chelate,</text>
<text transform="translate(240.90 543.62) scale(0.9720 1)" font-size="7.20" fill="#3a3a3a" word-spacing="5.075">natural grapefruit flavor, potassium bicarbonate, sodium</text>
<text transform="translate(240.90 553.58) scale(0.9720 1)" font-size="7.20" fill="#3a3a3a" word-spacing="1.296">bicarbonate, silica, potassium citrate, taurine, sucralose, beet</text>
<text transform="translate(240.90 563.54) scale(0.9720 1)" font-size="7.20" fill="#3a3a3a" word-spacing="4.117">root (color), dl-alpha-tocopheryl acetate, zinc bisglycinate</text>
<text transform="translate(240.90 573.50) scale(0.9720 1)" font-size="7.20" fill="#3a3a3a" word-spacing="2.975">chelate, manganese gluconate, grape seed extract, niacin,</text>
<text transform="translate(240.90 583.46) scale(0.9720 1)" font-size="7.20" fill="#3a3a3a" word-spacing="2.997">selenium-L-methionine complex, cyanocobalamin, D-calcium</text>
<text transform="translate(240.90 593.42) scale(0.9720 1)" font-size="7.20" fill="#3a3a3a" word-spacing="9.446">pantothenate, green tea leaf extract, folic acid,</text>
<text transform="translate(240.90 603.38) scale(0.9720 1)" font-size="7.20" fill="#3a3a3a" word-spacing="2.323">pyridoxal-5-phosphate, riboflavin-5-phosphate, xylitol, thiamin</text>
<text transform="translate(240.90 613.34) scale(0.9720 1)" font-size="7.20" fill="#3a3a3a" word-spacing="2.915">mononitrate, chromium nicotinate glycinate chelate, copper</text>
<text transform="translate(240.90 623.30) scale(0.9720 1)" font-size="7.20" fill="#3a3a3a" word-spacing="0.000">citrate and methylcobalamin.</text>
<text transform="translate(460.90 523.70) scale(0.9720 1)" font-size="7.20" fill="#3a3a3a" word-spacing="2.432">Other Ingredients: Citric acid, glucose polymers, potassium</text>
<text transform="translate(460.90 533.66) scale(0.9720 1)" font-size="7.20" fill="#3a3a3a" word-spacing="3.637">carbonate, natural flavors, calcium ascorbate, magnesium</text>
<text transform="translate(460.90 543.62) scale(0.9720 1)" font-size="7.20" fill="#3a3a3a" word-spacing="7.797">amino acid chelate, potassium bicarbonate, sodium</text>
<text transform="translate(460.90 553.58) scale(0.9720 1)" font-size="7.20" fill="#3a3a3a" word-spacing="3.097">bicarbonate, silica, beta-carotene (color), potassium citrate,</text>
<text transform="translate(460.90 563.54) scale(0.9720 1)" font-size="7.20" fill="#3a3a3a" word-spacing="1.296">taurine, sucralose, beet root (color), zinc bisglycinate chelate,</text>
<text transform="translate(460.90 573.50) scale(0.9720 1)" font-size="7.20" fill="#3a3a3a" word-spacing="0.187">dl-alpha-tocopheryl acetate, manganese gluconate, grape seed</text>
<text transform="translate(460.90 583.46) scale(0.9657 1)" font-size="7.20" fill="#3a3a3a" word-spacing="-0.600">extract, niacin, selenium-L-methionine complex, cyanocobalamin,</text>
<text transform="translate(460.90 593.42) scale(0.9720 1)" font-size="7.20" fill="#3a3a3a" word-spacing="3.239">D-calcium pantothenate, green tea leaf extract, folic acid,</text>
<text transform="translate(460.90 603.38) scale(0.9720 1)" font-size="7.20" fill="#3a3a3a" word-spacing="2.323">pyridoxal-5-phosphate, riboflavin-5-phosphate, xylitol, thiamin</text>
<text transform="translate(460.90 613.34) scale(0.9720 1)" font-size="7.20" fill="#3a3a3a" word-spacing="2.915">mononitrate, chromium nicotinate glycinate chelate, copper</text>
<text transform="translate(460.90 623.30) scale(0.9720 1)" font-size="7.20" fill="#3a3a3a" word-spacing="0.000">citrate and methylcobalamin.</text>
<text x="23.8" y="643.90" font-size="10.00" fill="#fff" stroke="#fff" stroke-width="0.3" textLength="622.00" lengthAdjust="spacingAndGlyphs">Store at 15-30° C (59-86° F). Protect from heat, light, and moisture. Contains 100 mg of caffeine. Not recommended for children or individuals</text>
<text x="23.8" y="656.80" font-size="10.00" fill="#fff" stroke="#fff" stroke-width="0.3" textLength="631.50" lengthAdjust="spacingAndGlyphs">who are pregnant, sensitive to caffeine, or have a health condition. Do not leave mixed product in direct sunlight, it will have a negative effect on</text>
<text x="23.8" y="669.7" font-size="10.00" fill="#fff" stroke="#fff" stroke-width="0.3" textLength="422.3" lengthAdjust="spacingAndGlyphs">taste and color. Carbonated drinks will overflow when mixed with Zipfizz®. Limit 2 tubes per day.</text>
<text x="450.5" y="669.7" font-size="10.00" font-weight="bold" fill="#fff" stroke="#fff" stroke-width="0.2" textLength="62.4" lengthAdjust="spacingAndGlyphs">GLUTEN FREE</text>
</svg>
</body></html>
